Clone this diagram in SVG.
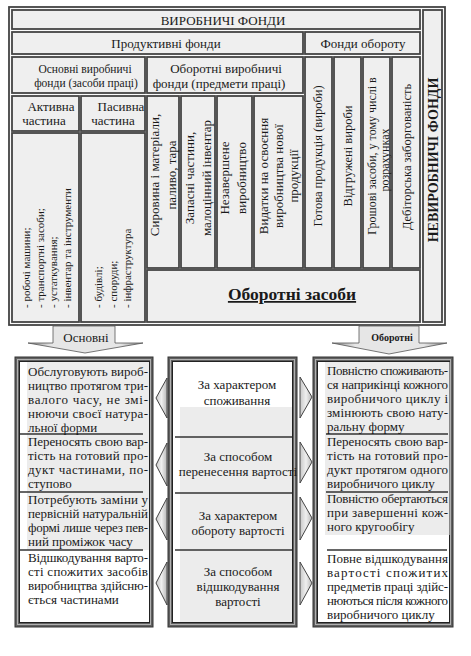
<svg xmlns="http://www.w3.org/2000/svg" width="471" height="656" viewBox="0 0 471 656">
<style>
.cell{fill:#efefef;stroke:#444;stroke-width:1.8}
.t{font-family:"Liberation Serif","Times New Roman",serif;fill:#1a1a1a}
.s13{font-size:13px}
.s12{font-size:12.5px}
.s11{font-size:11px}
.m{text-anchor:middle}
.b{font-weight:bold}
.sep{stroke:#333;stroke-width:1.5;fill:none}
.tri{fill:url(#gTri);stroke:#444;stroke-width:1}
.arr{stroke:#555;stroke-width:0.8}
.fo{fill:#606060;stroke:#333;stroke-width:1}
.fm{fill:none;stroke:#b0b0b0;stroke-width:1}
.fi{fill:#fff;stroke:#222;stroke-width:1}
.grey{fill:#ececec}
</style>
<defs>
<linearGradient id="gBody" x1="0" y1="0" x2="1" y2="0">
<stop offset="0" stop-color="#8a8a8a"/><stop offset="0.2" stop-color="#e6e6e6"/><stop offset="0.8" stop-color="#e6e6e6"/><stop offset="1" stop-color="#8a8a8a"/>
</linearGradient>
<linearGradient id="gTri" x1="0" y1="0" x2="1" y2="0">
<stop offset="0" stop-color="#c8c8c8"/><stop offset="0.5" stop-color="#efefef"/><stop offset="1" stop-color="#b8b8b8"/>
</linearGradient>
</defs>
<rect width="471" height="656" fill="#fff"/>

<g id="top-frame">
<rect x="9" y="7" width="436" height="318" fill="#fafafa" stroke="#444" stroke-width="1.8"/>
</g>
<g id="n-vyrobnychi">
<rect class="cell" x="12" y="10" width="408" height="19"/>
<text class="t s13 m" x="223" y="24.5">ВИРОБНИЧІ ФОНДИ</text>
</g>
<g id="n-nevyrobnychi">
<rect class="cell" x="423" y="10" width="19" height="312"/>
<text class="t b m" font-size="14" transform="translate(438,160) rotate(-90)">НЕВИРОБНИЧІ ФОНДИ</text>
</g>
<g id="n-produktyvni">
<rect class="cell" x="12" y="32" width="291" height="22"/>
<text class="t s13 m" x="166" y="47.5">Продуктивні фонди</text>
</g>
<g id="n-fondy-oborotu">
<rect class="cell" x="305" y="32" width="115" height="22"/>
<text class="t s13 m" x="363" y="47.5">Фонди обороту</text>
</g>
<g id="n-osnovni-vyr">
<rect class="cell" x="12" y="57" width="133" height="36"/>
<text class="t m" font-size="11.5" x="85" y="73">Основні виробничі</text>
<text class="t m" font-size="11.5" x="86" y="86.5">фонди (засоби праці)</text>
</g>
<g id="n-oborotni-vyr">
<rect class="cell" x="147" y="57" width="156" height="36"/>
<text class="t s13 m" x="226" y="73">Оборотні виробничі</text>
<text class="t s13 m" x="219" y="87.5">фонди (предмети праці)</text>
</g>
<g id="n-aktyvna">
<rect class="cell" x="12" y="96" width="67" height="35"/>
<text class="t s13 m" x="51" y="111">Активна</text>
<text class="t s13 m" x="44" y="125">частина</text>
</g>
<g id="n-pasyvna">
<rect class="cell" x="81" y="96" width="64" height="35"/>
<text class="t s13 m" x="121" y="111">Пасивна</text>
<text class="t s13 m" x="113" y="125">частина</text>
</g>
<g id="n-aktyvna-list">
<rect class="cell" x="12" y="133" width="67" height="189"/>
<text class="t s11" transform="translate(30,308) rotate(-90)">- робочі машини;</text>
<text class="t s11" transform="translate(44,308) rotate(-90)">- транспортні засоби;</text>
<text class="t s11" transform="translate(57,308) rotate(-90)">- устаткування;</text>
<text class="t s11" transform="translate(70.5,308) rotate(-90)">- інвентар та інструменти</text>
</g>
<g id="n-pasyvna-list">
<rect class="cell" x="81" y="133" width="64" height="189"/>
<text class="t s11" transform="translate(102,308) rotate(-90)">- будівлі;</text>
<text class="t s11" transform="translate(117,308) rotate(-90)">- споруди;</text>
<text class="t s11" transform="translate(130.5,308) rotate(-90)">- інфраструктура</text>
</g>
<g id="n-syrovyna">
<rect class="cell" x="147" y="96" width="32" height="172"/>
<text class="t s13 m" transform="translate(159,175) rotate(-90)">Сировина і матеріали,</text>
<text class="t s13 m" transform="translate(176,175) rotate(-90)">паливо, тара</text>
</g>
<g id="n-zapasni">
<rect class="cell" x="181" y="96" width="34" height="172"/>
<text class="t s13 m" transform="translate(194,178) rotate(-90)">Запасні частини,</text>
<text class="t s13 m" transform="translate(211,178) rotate(-90)">малоцінний інвентар</text>
</g>
<g id="n-nezaversheno">
<rect class="cell" x="217" y="96" width="35" height="172"/>
<text class="t s13 m" transform="translate(229,178) rotate(-90)">Незавершене</text>
<text class="t s13 m" transform="translate(246,178) rotate(-90)">виробництво</text>
</g>
<g id="n-vydatky">
<rect class="cell" x="254" y="96" width="49" height="172"/>
<text class="t s13 m" transform="translate(268,176) rotate(-90)">Видатки на освоєння</text>
<text class="t s13 m" transform="translate(283,176) rotate(-90)">виробництва нової</text>
<text class="t s13 m" transform="translate(297.5,176) rotate(-90)">продукції</text>
</g>
<g id="n-gotova">
<rect class="cell" x="305" y="57" width="27" height="211"/>
<text class="t s12 m" transform="translate(322,156) rotate(-90)">Готова продукція (вироби)</text>
</g>
<g id="n-vidgruzheni">
<rect class="cell" x="334" y="57" width="27" height="211"/>
<text class="t s12 m" transform="translate(352,156) rotate(-90)">Відгружені вироби</text>
</g>
<g id="n-groshovi">
<rect class="cell" x="363" y="57" width="27" height="211"/>
<text class="t m" font-size="12" transform="translate(375.5,156) rotate(-90)">Грошові засоби, у тому числі в</text>
<text class="t m" font-size="12" transform="translate(389,160) rotate(-90)">розрахунках</text>
</g>
<g id="n-debitorska">
<rect class="cell" x="392" y="57" width="28" height="211"/>
<text class="t s12 m" transform="translate(411,157) rotate(-90)">Дебіторська заборгованість</text>
</g>
<g id="n-oborotni-zasoby">
<rect class="cell" x="147" y="270" width="273" height="52"/>
<text class="t b m" font-size="17.5" x="292" y="300" text-decoration="underline">Оборотні засоби</text>
</g>

<g id="connectors">
<path class="arr" fill="url(#gBody)" d="M53,326 H115 V343 H143 L85,353 L28,343 H53 Z"/>
<text class="t s13 m" x="86" y="342">Основні</text>
<path class="arr" fill="url(#gBody)" d="M359,326 H419 V343 H447 L389,354 L332,343 H359 Z"/>
<text class="t b m" font-size="10" x="392" y="341">Оборотні</text>
<polygon class="tri" points="156,398 167,378 167,418"/>
<polygon class="tri" points="156,465 167,443 167,486"/>
<polygon class="tri" points="156,519 167,498 167,540"/>
<polygon class="tri" points="156,583 167,562 167,605"/>
<polygon class="tri" points="312,397 300,377 300,418"/>
<polygon class="tri" points="312,462 300,442 300,483"/>
<polygon class="tri" points="312,518 300,497 300,540"/>
<polygon class="tri" points="312,583 300,562 300,605"/>
</g>

<g id="n-left-box">
<rect class="fo" x="15" y="357" width="138" height="270"/>
<rect class="fm" x="17.5" y="359.5" width="133" height="265"/>
<rect class="fi" x="19.5" y="361.5" width="130" height="261"/>
<rect class="grey" x="27" y="362" width="122" height="188"/>
<line class="sep" x1="20" y1="434" x2="143" y2="434"/>
<line class="sep" x1="20" y1="492" x2="143" y2="492"/>
<line class="sep" x1="20" y1="550" x2="143" y2="550"/>
<g class="t s13">
<text x="28" y="376" textLength="120" lengthAdjust="spacing">Обслуговують вироб-</text>
<text x="28" y="390" textLength="120" lengthAdjust="spacing">ництво протягом три-</text>
<text x="28" y="404" textLength="120" lengthAdjust="spacing">валого часу, не змі-</text>
<text x="28" y="418" textLength="120" lengthAdjust="spacing">нюючи своєї натура-</text>
<text x="28" y="432">льної форми</text>
<text x="28" y="446" textLength="120" lengthAdjust="spacing">Переносять свою вар-</text>
<text x="28" y="460" textLength="120" lengthAdjust="spacing">тість на готовий про-</text>
<text x="28" y="474" textLength="120" lengthAdjust="spacing">дукт частинами, по-</text>
<text x="28" y="488">ступово</text>
<text x="28" y="504" textLength="120" lengthAdjust="spacing">Потребують заміни у</text>
<text x="28" y="518" textLength="120" lengthAdjust="spacing">первісній натуральній</text>
<text x="28" y="532" textLength="120" lengthAdjust="spacing">формі лише через пев-</text>
<text x="28" y="546">ний проміжок часу</text>
<text x="28" y="562" textLength="120" lengthAdjust="spacing">Відшкодування варто-</text>
<text x="28" y="576" textLength="120" lengthAdjust="spacing">сті спожитих засобів</text>
<text x="28" y="590" textLength="120" lengthAdjust="spacing">виробництва здійсню-</text>
<text x="28" y="604">ється частинами</text>
</g>
</g>

<g id="n-middle-box">
<rect class="fo" x="168" y="357" width="129" height="270"/>
<rect class="fm" x="170.5" y="359.5" width="124" height="265"/>
<rect class="fi" x="172.5" y="361.5" width="120" height="261"/>
<rect class="grey" x="180" y="407" width="112" height="215"/>
<line class="sep" x1="175" y1="437" x2="292" y2="437"/>
<line class="sep" x1="175" y1="493" x2="292" y2="493"/>
<line class="sep" x1="175" y1="550" x2="292" y2="550"/>
<g class="t s13 m">
<text x="237" y="389">За характером</text>
<text x="237" y="405">споживання</text>
<text x="238" y="461">За способом</text>
<text x="238" y="476">перенесення вартості</text>
<text x="238" y="520">За характером</text>
<text x="238" y="535">обороту вартості</text>
<text x="238" y="576">За способом</text>
<text x="238" y="591">відшкодування</text>
<text x="238" y="606">вартості</text>
</g>
</g>

<g id="n-right-box">
<rect class="fo" x="313" y="357" width="140" height="270"/>
<rect class="fm" x="315.5" y="359.5" width="135" height="265"/>
<rect class="fi" x="317.5" y="361.5" width="132" height="261"/>
<rect class="grey" x="325" y="362" width="124.5" height="173"/>
<line class="sep" x1="326" y1="434" x2="448" y2="434"/>
<line class="sep" x1="326" y1="492" x2="448" y2="492"/>
<line class="sep" x1="327" y1="550" x2="447" y2="550"/>
<g class="t s13">
<text x="327" y="375" textLength="121" lengthAdjust="spacing">Повністю споживають-</text>
<text x="327" y="389" textLength="121" lengthAdjust="spacing">ся наприкінці кожного</text>
<text x="327" y="403" textLength="121" lengthAdjust="spacing">виробничого циклу і</text>
<text x="327" y="417" textLength="121" lengthAdjust="spacing">змінюють свою нату-</text>
<text x="327" y="431">ральну форму</text>
<text x="327" y="446" textLength="121" lengthAdjust="spacing">Переносять свою вар-</text>
<text x="327" y="460" textLength="121" lengthAdjust="spacing">тість на готовий про-</text>
<text x="327" y="474" textLength="121" lengthAdjust="spacing">дукт протягом одного</text>
<text x="327" y="488">виробничого циклу</text>
<text x="327" y="503" textLength="121" lengthAdjust="spacing">Повністю обертаються</text>
<text x="327" y="517" textLength="121" lengthAdjust="spacing">при завершенні кож-</text>
<text x="327" y="531">ного кругообігу</text>
<text x="327" y="563" textLength="121" lengthAdjust="spacing">Повне відшкодування</text>
<text x="327" y="577" textLength="121" lengthAdjust="spacing">вартості спожитих</text>
<text x="327" y="591" textLength="121" lengthAdjust="spacing">предметів праці здійс-</text>
<text x="327" y="605" textLength="121" lengthAdjust="spacing">нюються після кожного</text>
<text x="327" y="619">виробничого циклу</text>
</g>
</g>
</svg>
